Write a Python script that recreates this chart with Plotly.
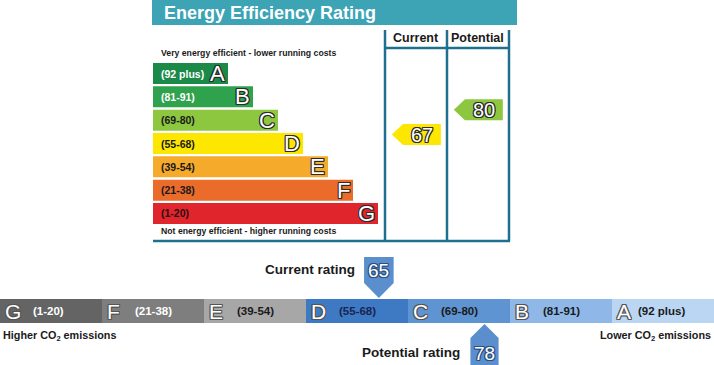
import plotly.graph_objects as go

# ---------------- data ----------------
bands = ["A", "B", "C", "D", "E", "F", "G"]
band_ranges = ["(92 plus)", "(81-91)", "(69-80)", "(55-68)", "(39-54)", "(21-38)", "(1-20)"]
band_lo = [92, 81, 69, 55, 39, 21, 1]
band_hi = [100, 91, 80, 68, 54, 38, 20]
eff_current = 67
eff_potential = 80
co2_current = 65
co2_potential = 78

# ---------------- styles ----------------
W, H = 714, 365
FONT = "Arial, Liberation Sans, sans-serif"
eff_colors = ["#1b8a48", "#2ea24c", "#8dc63f", "#fde600", "#f5aa2c", "#eb6b2b", "#e0262c"]
eff_label_colors = ["white", "white", "#1a1a1a", "#1a1a1a", "#1a1a1a", "#1a1a1a", "#2a1010"]
co2_colors = {"G": "#646464", "F": "#7e7e7e", "E": "#a7a7a7", "D": "#3e79c3",
              "C": "#5f94d3", "B": "#8fb8e8", "A": "#bbd6f3"}
co2_label_colors = {"G": "white", "F": "white", "E": "#1a1a1a", "D": "#1a2550",
                    "C": "#1a1a1a", "B": "#1a1a1a", "A": "#1a1a1a"}
marker_blue = "#5b8ecd"
line_col = "#1f6f8e"
title_col = "#3ca4b5"


def outline(c="#333333"):
    return f"1px 0 0 {c}, -1px 0 0 {c}, 0 1px 0 {c}, 0 -1px 0 {c}, 1px 1px 0 {c}, -1px -1px 0 {c}, 1px -1px 0 {c}, -1px 1px 0 {c}"


def px(x):
    return x / W


def py(y):
    return 1 - y / H


def band_of(r):
    for i, (lo, hi) in enumerate(zip(band_lo, band_hi)):
        if lo <= r <= hi:
            return i
    return len(bands) - 1


fig = go.Figure()

# ---------------- top: energy efficiency bars ----------------
n = len(bands)
bar_len = [i + 3 for i in range(n)]
fig.add_trace(go.Bar(
    x=bar_len, y=list(range(n)), orientation="h", width=0.9,
    marker=dict(color=eff_colors, line=dict(width=0)),
    xaxis="x", yaxis="y", hoverinfo="skip", showlegend=False))

annotations = []
for i, b in enumerate(bands):
    annotations.append(dict(x=0, y=i, xref="x", yref="y", text=band_ranges[i],
                            xanchor="left", yanchor="middle", xshift=6, showarrow=False,
                            font=dict(family=FONT, size=10.5, color=eff_label_colors[i], weight="bold")))
    annotations.append(dict(x=bar_len[i], y=i, xref="x", yref="y", text=b,
                            xanchor="right", yanchor="middle", xshift=-1, showarrow=False,
                            font=dict(family=FONT, size=22, color="white", shadow=outline("#2b2b2b"))))


def eff_y(r):
    i = band_of(r)
    frac = (band_hi[i] - r) / (band_hi[i] - band_lo[i] + 1)
    return i - 0.45 + frac * 0.9


for col, r in enumerate([eff_current, eff_potential]):
    yc = eff_y(r)
    color = eff_colors[band_of(r)]
    x0, xb, x1 = col + 0.11, col + 0.29, col + 0.90
    h = 0.45
    fig.add_trace(go.Scatter(
        x=[x0, xb, x1, x1, xb, x0], y=[yc, yc - h, yc - h, yc + h, yc + h, yc],
        fill="toself", fillcolor=color, mode="lines", line=dict(width=0, color=color),
        xaxis="x2", yaxis="y", hoverinfo="skip", showlegend=False))
    annotations.append(dict(x=(xb + x1) / 2, y=yc, xref="x2", yref="y", text=str(r),
                            showarrow=False, xanchor="center", yanchor="middle",
                            font=dict(family=FONT, size=20, color="white", shadow=outline("#2b2b2b"))))

# ---------------- bottom: CO2 bar ----------------
order = bands[::-1]  # G .. A left to right
fig.add_trace(go.Bar(
    x=[1] * n, base=list(range(n)), y=[0] * n, orientation="h", width=1,
    marker=dict(color=[co2_colors[b] for b in order], line=dict(width=0)),
    xaxis="x3", yaxis="y3", hoverinfo="skip", showlegend=False))

for j, b in enumerate(order):
    i = bands.index(b)
    annotations.append(dict(x=j + 0.025, y=0, xref="x3", yref="y3", text=b,
                            xanchor="left", yanchor="middle", showarrow=False,
                            font=dict(family=FONT, size=21, color="white", shadow=outline("#555555"))))
    annotations.append(dict(x=j + (0.235 if b == "A" else 0.3), y=0, xref="x3", yref="y3",
                            text=band_ranges[i], xanchor="left", yanchor="middle", showarrow=False,
                            font=dict(family=FONT, size=11.5, color=co2_label_colors[b], weight="bold")))


def co2_x(r):
    i = band_of(r)
    j = order.index(bands[i])
    return j + (r - band_lo[i]) / (band_hi[i] - band_lo[i] + 1)


hw = 0.145
cx = co2_x(co2_current)
fig.add_trace(go.Scatter(
    x=[cx - hw, cx + hw, cx + hw, cx, cx - hw, cx - hw],
    y=[257, 257, 283, 298, 283, 257],
    fill="toself", fillcolor=marker_blue, mode="lines", line=dict(width=0, color=marker_blue),
    xaxis="x3", yaxis="y4", hoverinfo="skip", showlegend=False))
annotations.append(dict(x=cx, y=270, xref="x3", yref="y4", text=str(co2_current), showarrow=False,
                        xanchor="center", yanchor="middle",
                        font=dict(family=FONT, size=19, color="white", shadow=outline("#2c4f80"))))
annotations.append(dict(x=cx - hw, y=269, xref="x3", yref="y4", text="Current rating",
                        xanchor="right", yanchor="middle", xshift=-7, showarrow=False,
                        font=dict(family=FONT, size=13.5, color="#1a1a1a", weight="bold")))

hw2 = 0.138
px2 = co2_x(co2_potential)
fig.add_trace(go.Scatter(
    x=[px2, px2 + hw2, px2 + hw2, px2 - hw2, px2 - hw2, px2],
    y=[324, 338, 370, 370, 338, 324],
    fill="toself", fillcolor=marker_blue, mode="lines", line=dict(width=0, color=marker_blue),
    xaxis="x3", yaxis="y4", hoverinfo="skip", showlegend=False))
annotations.append(dict(x=px2, y=353, xref="x3", yref="y4", text=str(co2_potential), showarrow=False,
                        xanchor="center", yanchor="middle",
                        font=dict(family=FONT, size=19, color="white", shadow=outline("#2c4f80"))))
annotations.append(dict(x=px2 - hw2, y=352, xref="x3", yref="y4", text="Potential rating",
                        xanchor="right", yanchor="middle", xshift=-8, showarrow=False,
                        font=dict(family=FONT, size=13.5, color="#1a1a1a", weight="bold")))

# ---------------- static text ----------------
def ptext(x, y, text, size, xanchor="left", color="#1a1a1a"):
    return dict(x=px(x), y=py(y), xref="paper", yref="paper", text=text,
                xanchor=xanchor, yanchor="middle", showarrow=False,
                font=dict(family=FONT, size=size, color=color, weight="bold"))


annotations += [
    ptext(162, 12.5, "Energy Efficiency Rating", 18, color="white"),
    ptext(416, 38, "Current", 12.5, xanchor="center"),
    ptext(478, 38, "Potential", 12.5, xanchor="center"),
    ptext(159, 53, "Very energy efficient - lower running costs", 8.7),
    ptext(159, 231, "Not energy efficient - higher running costs", 8.7),
    ptext(1, 336, "Higher CO<sub>2</sub> emissions", 10.8),
    ptext(713, 336, "Lower CO<sub>2</sub> emissions", 10.8, xanchor="right"),
]

shapes = [
    dict(type="rect", xref="paper", yref="paper", x0=px(152), x1=px(517), y0=py(25), y1=py(0),
         fillcolor=title_col, line=dict(width=0), layer="below"),
]
for xv in [385, 447, 509]:
    shapes.append(dict(type="line", xref="paper", yref="paper", x0=px(xv), x1=px(xv), y0=py(30), y1=py(241),
                       line=dict(color=line_col, width=2.5)))
shapes.append(dict(type="line", xref="paper", yref="paper", x0=px(384), x1=px(510), y0=py(48), y1=py(48),
                   line=dict(color=line_col, width=2.5)))
shapes.append(dict(type="line", xref="paper", yref="paper", x0=px(153), x1=px(510), y0=py(241), y1=py(241),
                   line=dict(color=line_col, width=2.5)))

slot = 23.3
top_c, bot_c = 73.5, 213.5
ax_hidden = dict(visible=False, showgrid=False, zeroline=False, fixedrange=True)
fig.update_layout(
    width=W, height=H, margin=dict(l=0, r=0, t=0, b=0),
    paper_bgcolor="white", plot_bgcolor="rgba(0,0,0,0)",
    barmode="overlay", showlegend=False,
    xaxis=dict(domain=[px(153), px(378)], range=[0, 9], anchor="y", **ax_hidden),
    yaxis=dict(domain=[py(bot_c + slot / 2), py(top_c - slot / 2)], range=[6.5, -0.5], anchor="x", **ax_hidden),
    xaxis2=dict(domain=[px(385), px(509)], range=[0, 2], anchor="y", **ax_hidden),
    xaxis3=dict(domain=[0, 1], range=[0, 7], anchor="y3", **ax_hidden),
    yaxis3=dict(domain=[py(323), py(299)], range=[-0.5, 0.5], anchor="x3", **ax_hidden),
    yaxis4=dict(domain=[0, 1], range=[H, 0], anchor="x3", **ax_hidden),
    annotations=annotations, shapes=shapes,
)

fig.write_html("out.html", config={"displayModeBar": False},
               post_script="document.body.style.margin='0';document.body.style.overflow='hidden';")
